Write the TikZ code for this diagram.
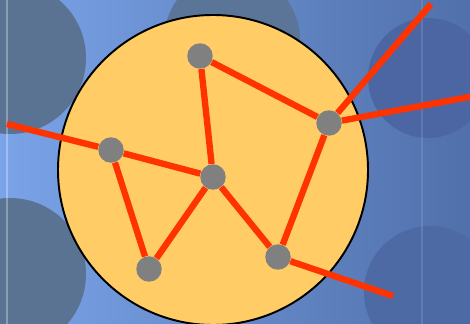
\documentclass[tikz,border=0pt]{standalone}
\usetikzlibrary{positioning}
\definecolor{bgleft}{HTML}{7AA3E8}
\definecolor{bgmid}{HTML}{6283C2}
\definecolor{bgright}{HTML}{5070AA}
\definecolor{bokehgrey}{HTML}{5A7392}
\definecolor{bokehblue}{HTML}{4B66A2}
\definecolor{discfill}{HTML}{FFCC66}
\definecolor{linkred}{HTML}{FF3300}
\definecolor{vertexgrey}{HTML}{808080}
\tikzset{
  vertex/.style={circle, fill=vertexgrey, minimum size=0.51cm, inner sep=0pt},
  link/.style={draw=linkred, line width=3.6pt},
  bokeh/.style={fill=#1},
  bokeh/.default=bokehgrey,
  streak/.style={draw=white, opacity=0.3, line width=0.6pt},
}
\begin{document}
\begin{tikzpicture}[x=0.02cm, y=-0.02cm]
  \useasboundingbox (0,0) rectangle (470,324);
  % background
  \begin{scope}
    \clip (0,0) rectangle (470,324);
    \shade[left color=bgleft, middle color=bgmid, right color=bgright] (0,0) rectangle (470,324);
    \fill[bokeh] (10,58) circle[radius=76];
    \fill[bokeh] (10,274) circle[radius=76];
    \fill[bokeh=bokehgrey!85!bgmid] (232,40) circle[radius=68];
    \fill[bokeh=bokehblue] (428,78) circle[radius=60];
    \fill[bokeh=bokehblue!60!bgright] (430,292) circle[radius=66];
    \draw[streak] (7,0) -- (7,324);
    \draw[streak, opacity=0.12] (422,0) -- (422,324);
  \end{scope}
  % disc
  \draw[fill=discfill, line width=1.1pt] (213,170) circle[radius=155];
  % vertices
  \node[vertex] (top) at (200,56) {};
  \node[vertex] (right) at (329,123) {};
  \node[vertex] (left) at (111,150) {};
  \node[vertex] (mid) at (213,177) {};
  \node[vertex] (lowl) at (149,269) {};
  \node[vertex] (lowr) at (278,257) {};
  % free ends
  \coordinate (outNE) at (431,4);
  \coordinate (outE) at (472,96.5);
  \coordinate (outW) at (7,124);
  \coordinate (outSE) at (393,296);
  % links
  \draw[link] (top) -- (right);
  \draw[link] (top) -- (mid);
  \draw[link] (left) -- (mid);
  \draw[link] (left) -- (lowl);
  \draw[link] (lowl) -- (mid);
  \draw[link] (mid) -- (lowr);
  \draw[link] (lowr) -- (right);
  \draw[link] (right) -- (outNE);
  \draw[link] (right) -- (outE);
  \draw[link] (left) -- (outW);
  \draw[link] (lowr) -- (outSE);
\end{tikzpicture}
\end{document}
